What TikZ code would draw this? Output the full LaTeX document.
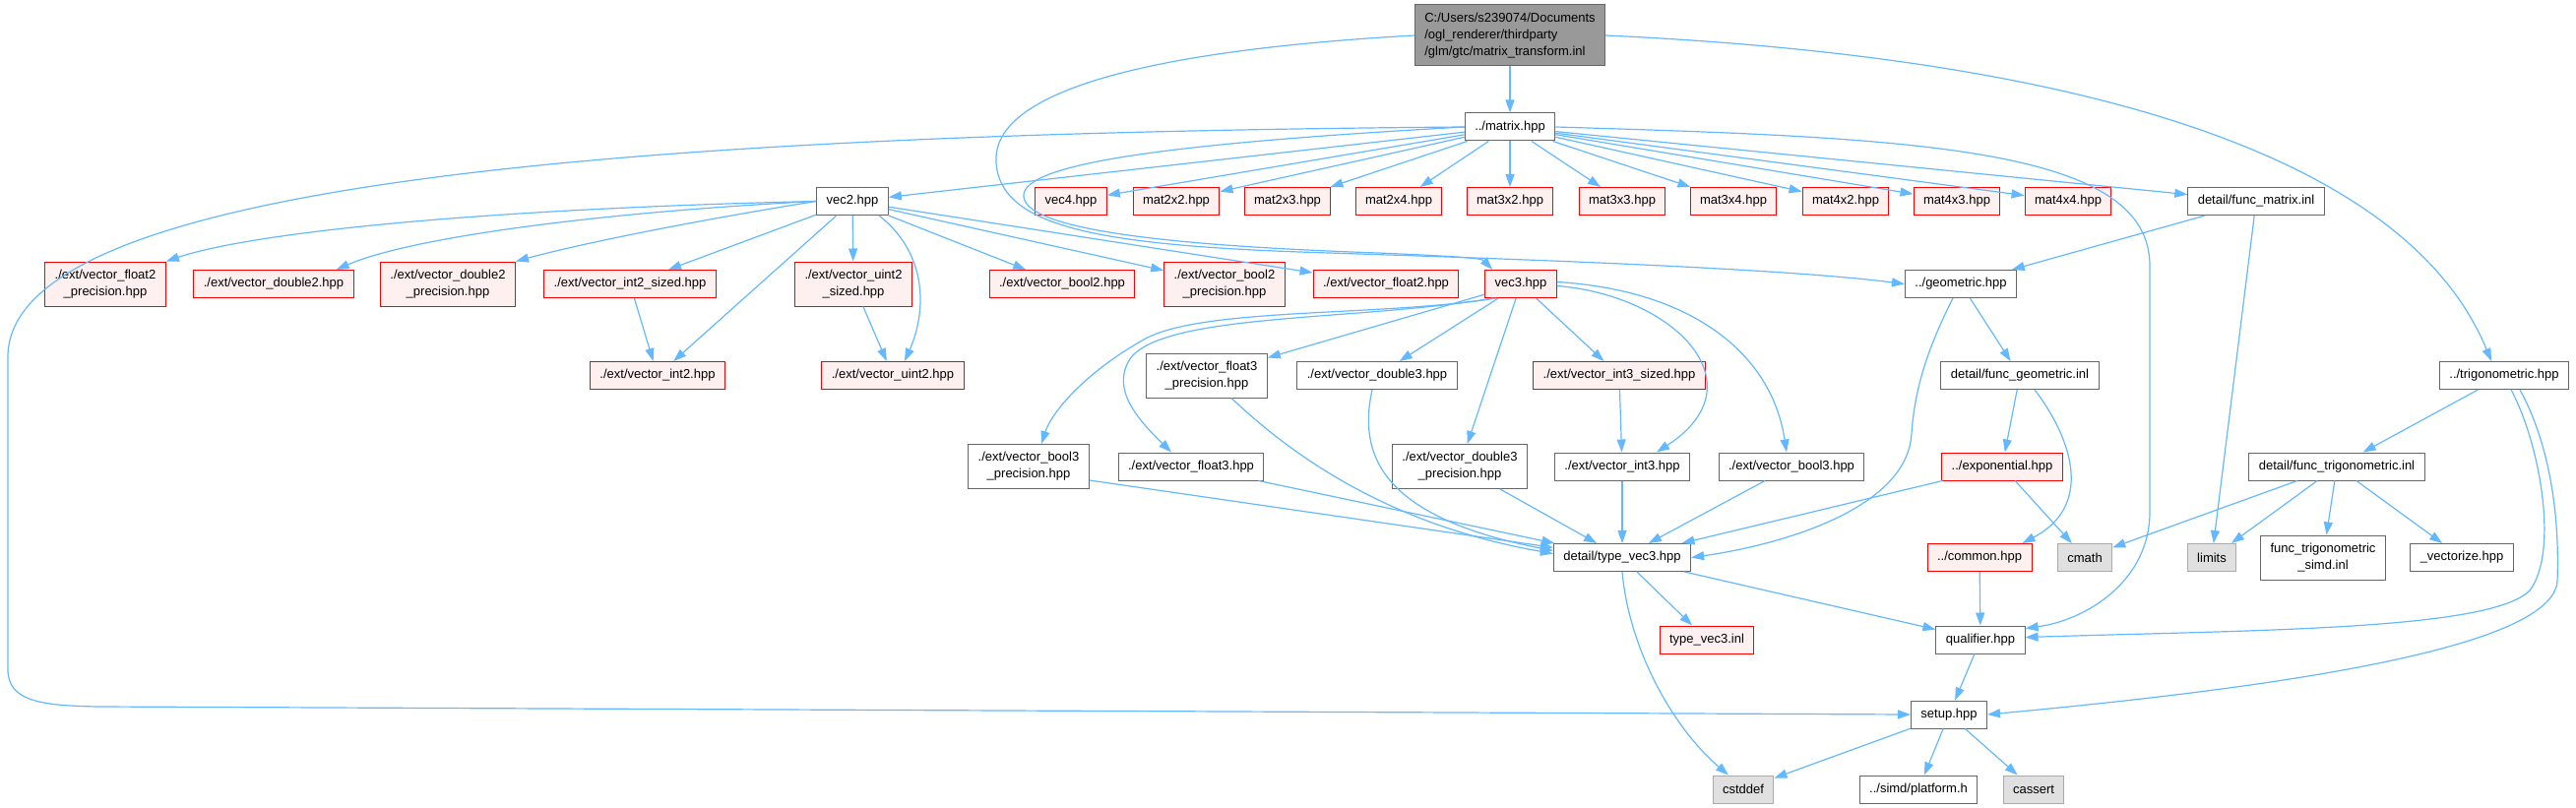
\documentclass[tikz,border=0pt]{standalone}
\usepackage{fontspec}
\setmainfont{Liberation Sans}
\usepackage{tikz}
\usetikzlibrary{arrows.meta}
\definecolor{edgeblue}{HTML}{63B8FF}
\definecolor{grey40}{HTML}{666666}
\definecolor{redline}{HTML}{FF0000}
\definecolor{redbg}{HTML}{FFF0F0}
\definecolor{sysline}{HTML}{AAAAAA}
\definecolor{sysbg}{HTML}{E0E0E0}
\definecolor{rootbg}{HTML}{999999}

\begin{document}
\begin{tikzpicture}[
      x=1pt, y=-1pt,
      font=\fontsize{13}{17}\selectfont,
      hbox/.style={rectangle, draw=grey40, fill=white, line width=1pt,
                   minimum height=28pt, inner xsep=10pt, inner ysep=2pt,
                   align=center},
      hred/.style={hbox, draw=redline, fill=redbg},
      hsys/.style={hbox, draw=sysline, fill=sysbg},
      hroot/.style={hbox, fill=rootbg, minimum height=62pt, align=left},
      two/.style={minimum height=45pt},
      dep/.style={-{Triangle[length=13pt, width=9pt]}, draw=edgeblue,
                  line width=1.2pt},
    ]
    \useasboundingbox (0,0) rectangle (2617,821);

    % ---------- top ----------
    \node[hroot] (root) at (1534,36)
      {C:/Users/s239074/Documents\\/ogl\_renderer/thirdparty\\/glm/gtc/matrix\_transform.inl};
    \node[hbox] (matrix) at (1534,129) {../matrix.hpp};

    % ---------- matrix.hpp includes ----------
    \node[hbox] (vec2) at (866,204.5) {vec2.hpp};
    \node[hred] (vec4) at (1088,204.5) {vec4.hpp};
    \node[hred] (m22) at (1195,204.5) {mat2x2.hpp};
    \node[hred] (m23) at (1308,204.5) {mat2x3.hpp};
    \node[hred] (m24) at (1421,204.5) {mat2x4.hpp};
    \node[hred] (m32) at (1534,204.5) {mat3x2.hpp};
    \node[hred] (m33) at (1648,204.5) {mat3x3.hpp};
    \node[hred] (m34) at (1761,204.5) {mat3x4.hpp};
    \node[hred] (m42) at (1875,204.5) {mat4x2.hpp};
    \node[hred] (m43) at (1988,204.5) {mat4x3.hpp};
    \node[hred] (m44) at (2101,204.5) {mat4x4.hpp};
    \node[hbox] (fmat) at (2292,204.5) {detail/func\_matrix.inl};

    % ---------- vec2 / vec3 level ----------
    \node[hred, two] (fp2) at (107,288.5) {./ext/vector\_float2\\\_precision.hpp};
    \node[hred] (d2) at (278,288.5) {./ext/vector\_double2.hpp};
    \node[hred, two] (dp2) at (455,288.5) {./ext/vector\_double2\\\_precision.hpp};
    \node[hred] (is2) at (640,288.5) {./ext/vector\_int2\_sized.hpp};
    \node[hred, two] (us2) at (867,288.5) {./ext/vector\_uint2\\\_sized.hpp};
    \node[hred] (b2) at (1079,288.5) {./ext/vector\_bool2.hpp};
    \node[hred, two] (bp2) at (1244,288.5) {./ext/vector\_bool2\\\_precision.hpp};
    \node[hred] (f2) at (1408,288.5) {./ext/vector\_float2.hpp};
    \node[hred] (vec3) at (1545,288.5) {vec3.hpp};
    \node[hbox] (geom) at (1992,288.5) {../geometric.hpp};

    \node[hred] (i2) at (668,381.5) {./ext/vector\_int2.hpp};
    \node[hred] (u2) at (907,381.5) {./ext/vector\_uint2.hpp};
    \node[hbox, two] (fp3) at (1226,381.5) {./ext/vector\_float3\\\_precision.hpp};
    \node[hbox] (d3) at (1399,381.5) {./ext/vector\_double3.hpp};
    \node[hred] (is3) at (1645,381.5) {./ext/vector\_int3\_sized.hpp};
    \node[hbox] (fgeom) at (2052,381.5) {detail/func\_geometric.inl};
    \node[hbox] (trig) at (2544,381.5) {../trigonometric.hpp};

    \node[hbox, two] (bp3) at (1045,474) {./ext/vector\_bool3\\\_precision.hpp};
    \node[hbox] (f3) at (1210,474) {./ext/vector\_float3.hpp};
    \node[hbox, two] (dp3) at (1483,474) {./ext/vector\_double3\\\_precision.hpp};
    \node[hbox] (i3) at (1648,474) {./ext/vector\_int3.hpp};
    \node[hbox] (b3) at (1820,474) {./ext/vector\_bool3.hpp};
    \node[hred] (expo) at (2034,474) {../exponential.hpp};
    \node[hbox] (ftrig) at (2374,474) {detail/func\_trigonometric.inl};

    % ---------- detail level ----------
    \node[hbox] (tv3) at (1648,566.5) {detail/type\_vec3.hpp};
    \node[hred] (common) at (2011,566.5) {../common.hpp};
    \node[hsys] (cmath) at (2118,566.5) {cmath};
    \node[hsys] (limits) at (2247,566.5) {limits};
    \node[hbox, two] (simd) at (2360,566.5) {func\_trigonometric\\\_simd.inl};
    \node[hbox] (vect) at (2501,566.5) {\_vectorize.hpp};

    \node[hred] (tv3inl) at (1734,650) {type\_vec3.inl};
    \node[hbox] (qual) at (2012,650) {qualifier.hpp};
    \node[hbox] (setup) at (1980,726) {setup.hpp};

    \node[hsys] (cstddef) at (1771,802) {cstddef};
    \node[hbox] (platform) at (1949,802) {../simd/platform.h};
    \node[hsys] (cassert) at (2066,802) {cassert};

    % ---------- flow: root ----------
    \draw[dep] (root) -- (matrix);
    \draw[dep] (root.west) .. controls (1100,55) and (1008,110) .. (1012,165)
      .. controls (1016,232) and (1120,250) .. (1350,257)
      .. controls (1600,265) and (1820,274) .. (geom.west);
    \draw[dep] (root.east) .. controls (2150,60) and (2450,170) .. ([xshift=-13pt]trig.north);

    % ---------- flow: matrix.hpp ----------
    \draw[dep] (matrix) -- (vec2);
    \draw[dep] (matrix) -- (vec4);
    \draw[dep] (matrix) -- (m22);
    \draw[dep] (matrix) -- (m23);
    \draw[dep] (matrix) -- (m24);
    \draw[dep] (matrix) -- (m32);
    \draw[dep] (matrix) -- (m33);
    \draw[dep] (matrix) -- (m34);
    \draw[dep] (matrix) -- (m42);
    \draw[dep] (matrix) -- (m43);
    \draw[dep] (matrix) -- (m44);
    \draw[dep] (matrix) -- (fmat);
    \draw[dep] (matrix.west) .. controls (1200,145) and (1036,165) .. (1040,200)
      .. controls (1044,235) and (1200,250) .. (1400,257)
      .. controls (1470,260) and (1505,262) .. ([xshift=8pt]vec3.north west);
    \draw[dep] (matrix.west) .. controls (600,136) and (15,190) .. (8,360) -- (8,680)
      .. controls (8,712) and (40,717) .. (100,718) -- (setup.west);
    \draw[dep] (matrix.east) .. controls (1950,140) and (2184,150) .. (2184,270) -- (2184,520)
      .. controls (2184,590) and (2120,630) .. ([yshift=-3pt]qual.north east);

    % ---------- flow: vec2.hpp ----------
    \draw[dep] (vec2.west) .. controls (500,212) and (260,235) .. (fp2.north east);
    \draw[dep] (vec2.west) .. controls (620,215) and (420,240) .. ([xshift=-18pt]d2.north east);
    \draw[dep] (vec2.west) .. controls (720,222) and (600,245) .. (dp2.north east);
    \draw[dep] (vec2) -- (is2);
    \draw[dep] (vec2) -- (i2);
    \draw[dep] (vec2) -- (us2);
    \draw[dep] ([xshift=27pt]vec2.south) .. controls (945,260) and (940,320) .. ([xshift=12pt]u2.north);
    \draw[dep] (vec2) -- (b2);
    \draw[dep] (vec2) -- (bp2);
    \draw[dep] (vec2) -- (f2);
    \draw[dep] (is2) -- (i2);
    \draw[dep] (us2) -- (u2);

    % ---------- flow: vec3.hpp ----------
    \draw[dep] ([xshift=-25pt]vec3.south) .. controls (1400,322) and (1220,312) .. (1162,345)
      .. controls (1100,380) and (1068,420) .. ([xshift=13pt]bp3.north);
    \draw[dep] ([xshift=-28pt]vec3.south) .. controls (1380,326) and (1190,318) .. (1150,362)
      .. controls (1125,395) and (1160,430) .. ([xshift=-20pt]f3.north);
    \draw[dep] (vec3) -- (fp3);
    \draw[dep] (vec3) -- (d3);
    \draw[dep] (vec3) -- (dp3);
    \draw[dep] (vec3) -- (is3);
    \draw[dep] ([yshift=-2pt]vec3.east) .. controls (1700,300) and (1790,390) .. ([xshift=35pt]i3.north);
    \draw[dep] ([yshift=2pt]vec3.east) .. controls (1720,295) and (1800,360) .. ([xshift=-5pt]b3.north);
    \draw[dep] (is3) -- (i3);

    % ---------- flow: into type_vec3 ----------
    \draw[dep] ([yshift=-14pt]bp3.east) -- (tv3);
    \draw[dep] (f3) -- (tv3);
    \draw[dep] ([xshift=25pt]fp3.south) .. controls (1320,470) and (1420,535) .. ([yshift=4pt]tv3.west);
    \draw[dep] ([xshift=-5pt]d3.south) .. controls (1380,460) and (1400,525) .. ([yshift=7pt]tv3.west);
    \draw[dep] (dp3) -- (tv3);
    \draw[dep] (i3) -- (tv3);
    \draw[dep] (b3) -- (tv3);
    \draw[dep] ([xshift=-8pt]geom.south) .. controls (1955,360) and (1945,400) .. (1942,440)
      .. controls (1938,520) and (1800,555) .. (tv3.east);
    \draw[dep] (expo) -- (tv3);

    % ---------- flow: right side ----------
    \draw[dep] (geom) -- (fgeom);
    \draw[dep] (fmat) -- (geom);
    \draw[dep] (fmat) -- (limits);
    \draw[dep] (fgeom) -- (expo);
    \draw[dep] ([xshift=15pt]fgeom.south) .. controls (2108,450) and (2125,515) .. ([xshift=-10pt]common.north east);
    \draw[dep] (expo) -- (cmath);
    \draw[dep] (common) -- (qual);
    \draw[dep] (trig) -- (ftrig);
    \draw[dep] ([xshift=7pt]trig.south) .. controls (2580,450) and (2600,560) .. (2570,600)
      .. controls (2530,640) and (2300,640) .. ([yshift=-12pt]qual.north east);
    \draw[dep] ([xshift=16pt]trig.south) .. controls (2595,460) and (2600,540) .. (2598,590)
      .. controls (2595,660) and (2300,700) .. (setup.east);
    \draw[dep] (ftrig) -- (cmath);
    \draw[dep] (ftrig) -- (limits);
    \draw[dep] (ftrig) -- (simd);
    \draw[dep] (ftrig) -- (vect);

    % ---------- flow: bottom ----------
    \draw[dep] (tv3) -- (tv3inl);
    \draw[dep] (tv3) -- (qual);
    \draw[dep] (tv3.south) .. controls (1655,660) and (1700,740) .. ([xshift=-15pt]cstddef.north);
    \draw[dep] (qual) -- (setup);
    \draw[dep] (setup) -- (cstddef);
    \draw[dep] (setup) -- (platform);
    \draw[dep] (setup) -- (cassert);

  \end{tikzpicture}
\end{document}
